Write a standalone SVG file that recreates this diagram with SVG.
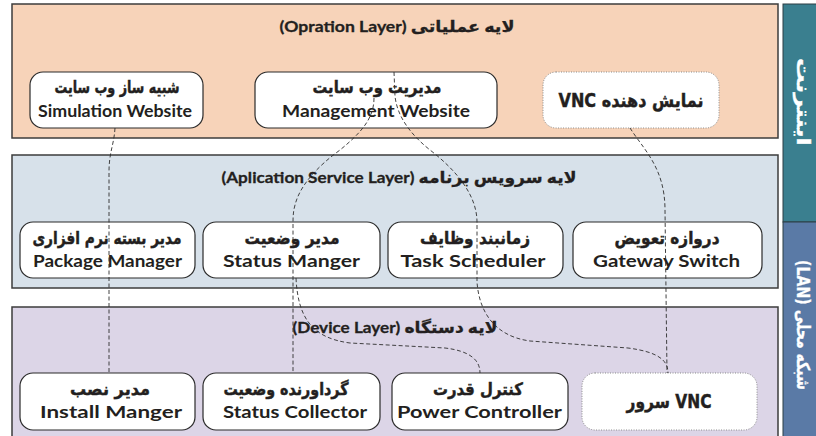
<svg xmlns="http://www.w3.org/2000/svg" width="816" height="436" viewBox="0 0 816 436">
  <style>
    .layer { stroke: #3c3c3c; stroke-width: 1.5; }
    .node { fill: #ffffff; stroke: #2b2b2b; stroke-width: 1.2; }
    .dotted { fill: #ffffff; stroke: #8a8a8a; stroke-width: 1; stroke-dasharray: 1 1.5; }
    .link { fill: none; stroke: #2e2e2e; stroke-width: 0.9; stroke-dasharray: 4 2.5; }
    .en { font-family: Lato, "Open Sans", sans-serif; font-weight: bold; font-size: 17.5px; fill: #231f20; text-anchor: middle; }
    .fa { font-family: "DejaVu Sans", sans-serif; font-weight: bold; font-size: 17px; fill: #231f20; stroke: #231f20; stroke-width: 0.45; text-anchor: middle; }
    .title { font-family: Lato, "DejaVu Sans", sans-serif; font-weight: bold; font-size: 16px; fill: #231f20; stroke: #231f20; stroke-width: 0.3; text-anchor: middle; }
    .side { font-family: "DejaVu Sans", sans-serif; font-weight: bold; font-size: 18px; fill: #ffffff; stroke: #ffffff; stroke-width: 0.3; text-anchor: middle; dominant-baseline: central; }
  </style>

  <!-- background -->
  <rect x="0" y="0" width="816" height="436" fill="#ffffff"/>

  <!-- layers -->
  <g id="operation-layer">
    <rect class="layer" x="12" y="4" width="766" height="134" fill="#f7d3b9"/>
    <text class="title" x="397" y="32" direction="rtl" textLength="235" lengthAdjust="spacingAndGlyphs">لایه عملیاتی (Opration Layer)</text>
  </g>
  <g id="application-layer">
    <rect class="layer" x="12" y="155" width="766" height="133" fill="#d7e1ea"/>
    <text class="title" x="399" y="183" direction="rtl" textLength="355" lengthAdjust="spacingAndGlyphs">لایه سرویس برنامه (Aplication Service Layer)</text>
  </g>
  <g id="device-layer">
    <rect class="layer" x="12" y="307" width="766" height="140" fill="#dcd5e7"/>
    <text class="title" x="395" y="333" direction="rtl" textLength="205" lengthAdjust="spacingAndGlyphs">لایه دستگاه (Device Layer)</text>
  </g>

  <!-- network side bars -->
  <g id="internet-bar">
    <rect x="783" y="4" width="40" height="218" fill="#3a7f8f" stroke="#2c3e45" stroke-width="1"/>
    <text class="side" transform="translate(803 102) rotate(90)" direction="rtl" textLength="88" lengthAdjust="spacingAndGlyphs">اینترنت</text>
  </g>
  <g id="lan-bar">
    <rect x="783" y="222" width="40" height="220" fill="#5a7aa6" stroke="#2c3e45" stroke-width="1"/>
    <text class="side" transform="translate(803 325) rotate(90)" direction="rtl" textLength="130" lengthAdjust="spacingAndGlyphs">شبکه محلی (LAN)</text>
  </g>

  <!-- operation layer nodes -->
  <g id="simulation-website">
    <rect class="node" x="30" y="72" width="173" height="56" rx="13"/>
    <text class="fa" x="117" y="93" textLength="125" lengthAdjust="spacingAndGlyphs">شبیه ساز وب سایت</text>
    <text class="en" x="115" y="117" textLength="154" lengthAdjust="spacingAndGlyphs">Simulation Website</text>
  </g>
  <g id="management-website">
    <rect class="node" x="255" y="72" width="242" height="56" rx="13"/>
    <text class="fa" x="377" y="93" textLength="129" lengthAdjust="spacingAndGlyphs">مدیریت وب سایت</text>
    <text class="en" x="376" y="117" textLength="188" lengthAdjust="spacingAndGlyphs">Management Website</text>
  </g>
  <g id="vnc-viewer">
    <rect class="dotted" x="543" y="72" width="176" height="56" rx="13"/>
    <text class="fa" x="631" y="107" direction="rtl" style="font-size:19px" textLength="145" lengthAdjust="spacingAndGlyphs">نمایش دهنده VNC</text>
  </g>

  <!-- application service layer nodes -->
  <g id="package-manager">
    <rect class="node" x="20" y="222" width="175" height="56" rx="13"/>
    <text class="fa" x="107" y="244" textLength="149" lengthAdjust="spacingAndGlyphs">مدیر بسته نرم افزاری</text>
    <text class="en" x="107.5" y="267" textLength="149" lengthAdjust="spacingAndGlyphs">Package Manager</text>
  </g>
  <g id="status-manager">
    <rect class="node" x="203" y="222" width="177" height="56" rx="13"/>
    <text class="fa" x="292" y="244" textLength="95" lengthAdjust="spacingAndGlyphs">مدیر وضعیت</text>
    <text class="en" x="291.5" y="267" textLength="137" lengthAdjust="spacingAndGlyphs">Status Manger</text>
  </g>
  <g id="task-scheduler">
    <rect class="node" x="388" y="222" width="175" height="56" rx="13"/>
    <text class="fa" x="475" y="244" textLength="110" lengthAdjust="spacingAndGlyphs">زمانبند وظایف</text>
    <text class="en" x="473" y="267" textLength="145" lengthAdjust="spacingAndGlyphs">Task Scheduler</text>
  </g>
  <g id="gateway-switch">
    <rect class="node" x="573" y="222" width="189" height="56" rx="13"/>
    <text class="fa" x="667" y="244" textLength="105" lengthAdjust="spacingAndGlyphs">دروازه تعویض</text>
    <text class="en" x="666.5" y="267" textLength="147" lengthAdjust="spacingAndGlyphs">Gateway Switch</text>
  </g>

  <!-- device layer nodes -->
  <g id="install-manager">
    <rect class="node" x="20" y="373" width="175" height="57" rx="13"/>
    <text class="fa" x="110" y="395" textLength="80" lengthAdjust="spacingAndGlyphs">مدیر نصب</text>
    <text class="en" x="111" y="418" textLength="142" lengthAdjust="spacingAndGlyphs">Install Manger</text>
  </g>
  <g id="status-collector">
    <rect class="node" x="203" y="373" width="177" height="57" rx="13"/>
    <text class="fa" x="286" y="395" textLength="125" lengthAdjust="spacingAndGlyphs">گرداورنده وضعیت</text>
    <text class="en" x="295" y="418" textLength="144" lengthAdjust="spacingAndGlyphs">Status Collector</text>
  </g>
  <g id="power-controller">
    <rect class="node" x="392" y="373" width="176" height="57" rx="13"/>
    <text class="fa" x="478" y="395" textLength="90" lengthAdjust="spacingAndGlyphs">کنترل قدرت</text>
    <text class="en" x="479.5" y="418" textLength="165" lengthAdjust="spacingAndGlyphs">Power Controller</text>
  </g>
  <g id="vnc-server">
    <rect class="dotted" x="582" y="373" width="175" height="57" rx="13"/>
    <text class="fa" x="669" y="408" direction="ltr" style="font-size:19px" textLength="85" lengthAdjust="spacingAndGlyphs">سرور VNC</text>
  </g>

  <!-- dashed connectors -->
  <g id="connectors">
    <path class="link" d="M115,128 C114,145 109,152 109,172 L109,373"/>
    <path class="link" d="M374,98 C374,118 362,132 340,150 C318,166 300,185 295,205 C293,212 293,218 293,225 L293,373"/>
    <path class="link" d="M296,278 C298,318 312,338 350,343 L445,348 C470,351 480,360 480,373"/>
    <path class="link" d="M394,72 L395,96 C397,116 410,134 430,150 C456,170 477,195 477,222 L477,282 C479,310 493,336 530,341 L628,348 C658,352 668,360 668,373"/>
    <path class="link" d="M630,128 C644,150 665,168 665,210 L667,373"/>
  </g>
</svg>
